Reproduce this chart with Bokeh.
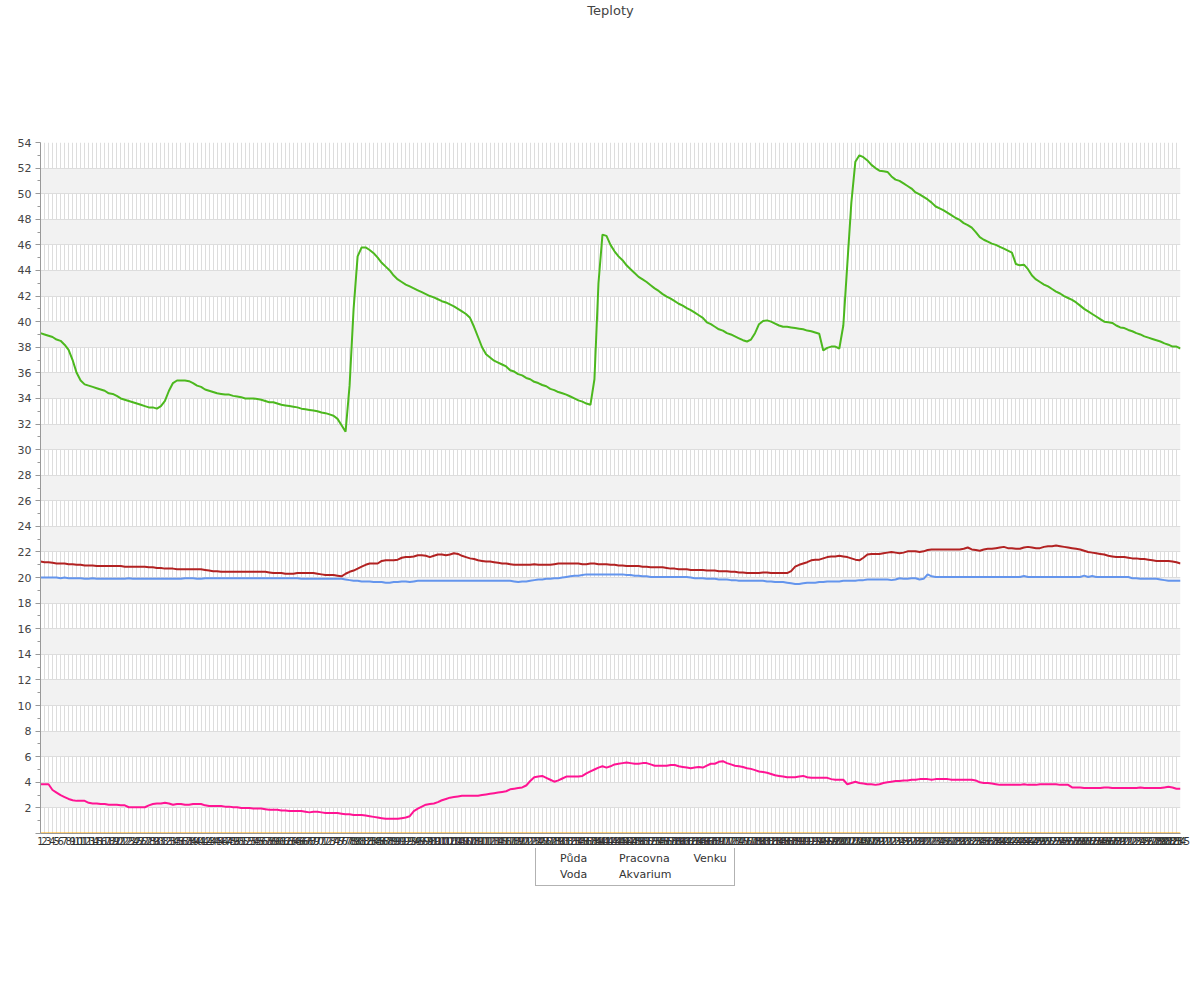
from bokeh.plotting import figure
from bokeh.models import Range1d, FixedTicker, Title
from bokeh.layouts import column
from bokeh.embed import file_html
from bokeh.resources import INLINE

categories = list(range(1, 286))

puda = [
    20.0, 20.0, 20.0, 20.0, 20.0, 19.95, 20.0, 19.95, 19.95, 19.95,
    19.95, 19.9, 19.9, 19.95, 19.9, 19.9, 19.9, 19.9, 19.9, 19.9,
    19.9, 19.9, 19.95, 19.9, 19.9, 19.9, 19.9, 19.9, 19.9, 19.9,
    19.9, 19.9, 19.9, 19.9, 19.9, 19.9, 19.95, 19.95, 19.95, 19.9,
    19.9, 19.95, 19.95, 19.95, 19.95, 19.95, 19.95, 19.95, 19.95, 19.95,
    19.95, 19.95, 19.95, 19.95, 19.95, 19.95, 19.95, 19.95, 19.95, 19.95,
    19.95, 19.95, 19.95, 19.95, 19.95, 19.9, 19.9, 19.9, 19.9, 19.9,
    19.9, 19.9, 19.9, 19.9, 19.9, 19.9, 19.85, 19.8, 19.75, 19.75,
    19.7, 19.7, 19.7, 19.65, 19.65, 19.65, 19.6, 19.6, 19.65, 19.65,
    19.7, 19.7, 19.65, 19.7, 19.75, 19.75, 19.75, 19.75, 19.75, 19.75,
    19.75, 19.75, 19.75, 19.75, 19.75, 19.75, 19.75, 19.75, 19.75, 19.75,
    19.75, 19.75, 19.75, 19.75, 19.75, 19.75, 19.75, 19.75, 19.7, 19.65,
    19.7, 19.7, 19.75, 19.8, 19.85, 19.85, 19.9, 19.9, 19.95, 19.95,
    20.0, 20.05, 20.1, 20.15, 20.15, 20.2, 20.25, 20.25, 20.25, 20.25,
    20.25, 20.25, 20.25, 20.25, 20.25, 20.25, 20.2, 20.2, 20.15, 20.15,
    20.1, 20.1, 20.05, 20.05, 20.05, 20.05, 20.05, 20.05, 20.05, 20.05,
    20.05, 20.05, 20.0, 19.95, 19.95, 19.95, 19.9, 19.9, 19.9, 19.85,
    19.85, 19.85, 19.8, 19.8, 19.75, 19.75, 19.75, 19.75, 19.75, 19.75,
    19.75, 19.7, 19.7, 19.65, 19.65, 19.65, 19.6, 19.55, 19.5, 19.5,
    19.55, 19.6, 19.6, 19.6, 19.65, 19.65, 19.7, 19.7, 19.7, 19.7,
    19.75, 19.75, 19.75, 19.75, 19.8, 19.8, 19.85, 19.85, 19.85, 19.85,
    19.85, 19.85, 19.8, 19.85, 19.95, 19.9, 19.9, 19.95, 19.95, 19.85,
    19.9, 20.25, 20.1, 20.05, 20.05, 20.05, 20.05, 20.05, 20.05, 20.05,
    20.05, 20.05, 20.05, 20.05, 20.05, 20.05, 20.05, 20.05, 20.05, 20.05,
    20.05, 20.05, 20.05, 20.05, 20.05, 20.12, 20.05, 20.05, 20.05, 20.05,
    20.05, 20.05, 20.05, 20.05, 20.05, 20.05, 20.05, 20.05, 20.05, 20.05,
    20.15, 20.05, 20.12, 20.05, 20.05, 20.05, 20.05, 20.05, 20.05, 20.05,
    20.05, 20.05, 19.95, 19.95, 19.9, 19.9, 19.9, 19.9, 19.9, 19.85,
    19.8, 19.75, 19.75, 19.75, 19.75,
]

voda = [
    39.1, 39.0, 38.9, 38.8, 38.6, 38.5, 38.2, 37.8, 37.0, 36.0,
    35.4, 35.1, 35.0, 34.9, 34.8, 34.7, 34.6, 34.4, 34.35, 34.2,
    34.0, 33.9, 33.8, 33.7, 33.6, 33.5, 33.4, 33.3, 33.3, 33.2,
    33.4, 33.8, 34.6, 35.2, 35.4, 35.4, 35.4, 35.35, 35.2, 35.0,
    34.9, 34.7, 34.6, 34.5, 34.4, 34.35, 34.3, 34.3, 34.2, 34.15,
    34.1, 34.0, 34.0, 34.0, 33.95, 33.9, 33.8, 33.7, 33.7, 33.6,
    33.5, 33.45, 33.4, 33.35, 33.3, 33.2, 33.15, 33.1, 33.05, 33.0,
    32.9, 32.85, 32.75, 32.65, 32.4, 31.9, 31.4, 35.0, 41.0, 45.1,
    45.8, 45.8, 45.6, 45.35, 45.0, 44.6, 44.3, 44.0, 43.6, 43.3,
    43.1, 42.9, 42.75, 42.6, 42.45, 42.3, 42.15, 42.0, 41.9, 41.75,
    41.6, 41.5, 41.35, 41.2, 41.0, 40.8, 40.6, 40.3, 39.6, 38.8,
    38.0, 37.45, 37.2, 36.95, 36.8, 36.65, 36.5, 36.2, 36.1, 35.9,
    35.8, 35.6, 35.5, 35.3, 35.2, 35.05, 34.95, 34.75, 34.65, 34.5,
    34.4, 34.3, 34.15, 34.0, 33.85, 33.75, 33.6, 33.5, 35.5, 43.0,
    46.8, 46.7, 46.0, 45.5, 45.1, 44.8, 44.4, 44.1, 43.8, 43.5,
    43.3, 43.1, 42.85, 42.6, 42.4, 42.15, 41.95, 41.8, 41.6, 41.4,
    41.25, 41.05, 40.9, 40.7, 40.5, 40.3, 39.95, 39.8, 39.6, 39.4,
    39.3, 39.1, 39.0, 38.85, 38.7, 38.55, 38.45, 38.6, 39.1, 39.8,
    40.05, 40.1, 40.0, 39.85, 39.7, 39.6, 39.6, 39.55, 39.5, 39.45,
    39.4, 39.3, 39.25, 39.15, 39.05, 37.75, 37.95, 38.05, 38.05, 37.9,
    39.7, 44.5, 49.3, 52.5, 53.0, 52.85, 52.6, 52.25, 52.0, 51.8,
    51.75, 51.7, 51.35, 51.1, 51.0, 50.8, 50.6, 50.4, 50.1, 49.95,
    49.75, 49.55, 49.3, 49.0, 48.85, 48.7, 48.5, 48.3, 48.1, 47.95,
    47.7, 47.55, 47.35, 47.0, 46.6, 46.4, 46.25, 46.1, 46.0, 45.85,
    45.7, 45.55, 45.4, 44.5, 44.4, 44.45, 44.1, 43.6, 43.3, 43.1,
    42.9, 42.75, 42.55, 42.35, 42.2, 42.0, 41.85, 41.7, 41.5, 41.25,
    41.0, 40.8, 40.6, 40.4, 40.2, 40.0, 39.95, 39.9, 39.7, 39.55,
    39.5, 39.35, 39.25, 39.1, 39.0, 38.85, 38.75, 38.65, 38.55, 38.45,
    38.3, 38.2, 38.05, 38.05, 37.9,
]

pracovna = [
    21.25, 21.2, 21.2, 21.15, 21.1, 21.1, 21.1, 21.05, 21.05, 21.0,
    21.0, 20.95, 20.95, 20.95, 20.9, 20.9, 20.9, 20.9, 20.9, 20.9,
    20.9, 20.85, 20.85, 20.85, 20.85, 20.85, 20.85, 20.8, 20.8, 20.75,
    20.75, 20.7, 20.7, 20.7, 20.65, 20.65, 20.65, 20.65, 20.65, 20.65,
    20.65, 20.6, 20.55, 20.5, 20.5, 20.45, 20.45, 20.45, 20.45, 20.45,
    20.45, 20.45, 20.45, 20.45, 20.45, 20.45, 20.45, 20.4, 20.35, 20.35,
    20.35, 20.3, 20.3, 20.3, 20.35, 20.35, 20.35, 20.35, 20.35, 20.3,
    20.25, 20.2, 20.2, 20.2, 20.15, 20.1, 20.3, 20.45, 20.55, 20.7,
    20.85, 21.0, 21.1, 21.1, 21.1, 21.3, 21.35, 21.35, 21.35, 21.4,
    21.55, 21.6, 21.6, 21.65, 21.75, 21.75, 21.7, 21.6, 21.7, 21.8,
    21.8, 21.75, 21.8, 21.9, 21.85, 21.7, 21.6, 21.5, 21.45, 21.35,
    21.3, 21.25, 21.25, 21.2, 21.15, 21.1, 21.1, 21.05, 21.0, 21.0,
    21.0, 21.0, 21.0, 21.05, 21.0, 21.0, 21.0, 21.0, 21.05, 21.1,
    21.1, 21.1, 21.1, 21.1, 21.1, 21.05, 21.05, 21.1, 21.1, 21.05,
    21.05, 21.05, 21.0, 21.0, 20.95, 20.95, 20.9, 20.9, 20.9, 20.9,
    20.85, 20.85, 20.8, 20.8, 20.8, 20.8, 20.75, 20.7, 20.7, 20.65,
    20.65, 20.65, 20.6, 20.6, 20.6, 20.6, 20.55, 20.55, 20.55, 20.5,
    20.5, 20.5, 20.45, 20.45, 20.4, 20.4, 20.35, 20.35, 20.35, 20.35,
    20.4, 20.4, 20.35, 20.35, 20.35, 20.35, 20.35, 20.5, 20.85, 21.0,
    21.1, 21.2, 21.35, 21.4, 21.4, 21.5, 21.6, 21.65, 21.65, 21.7,
    21.65, 21.6, 21.5, 21.4, 21.35, 21.55, 21.8, 21.85, 21.85, 21.85,
    21.9, 21.95, 22.0, 21.95, 21.9, 21.95, 22.05, 22.05, 22.05, 22.0,
    22.05, 22.15, 22.2, 22.2, 22.2, 22.2, 22.2, 22.2, 22.2, 22.2,
    22.25, 22.35, 22.2, 22.15, 22.1, 22.2, 22.25, 22.25, 22.3, 22.35,
    22.4, 22.3, 22.3, 22.25, 22.25, 22.35, 22.4, 22.35, 22.3, 22.3,
    22.4, 22.45, 22.45, 22.5, 22.45, 22.4, 22.35, 22.3, 22.25, 22.2,
    22.1, 22.0, 21.95, 21.9, 21.85, 21.8, 21.7, 21.65, 21.6, 21.6,
    21.6, 21.55, 21.5, 21.5, 21.45, 21.45, 21.4, 21.35, 21.3, 21.3,
    21.3, 21.3, 21.25, 21.2, 21.1,
]

akvarium = [
    0, 0, 0, 0, 0, 0, 0, 0, 0, 0, 0, 0, 0, 0, 0, 0, 0, 0, 0, 0,
    0, 0, 0, 0, 0, 0, 0, 0, 0, 0, 0, 0, 0, 0, 0, 0, 0, 0, 0, 0,
    0, 0, 0, 0, 0, 0, 0, 0, 0, 0, 0, 0, 0, 0, 0, 0, 0, 0, 0, 0,
    0, 0, 0, 0, 0, 0, 0, 0, 0, 0, 0, 0, 0, 0, 0, 0, 0, 0, 0, 0,
    0, 0, 0, 0, 0, 0, 0, 0, 0, 0, 0, 0, 0, 0, 0, 0, 0, 0, 0, 0,
    0, 0, 0, 0, 0, 0, 0, 0, 0, 0, 0, 0, 0, 0, 0, 0, 0, 0, 0, 0,
    0, 0, 0, 0, 0, 0, 0, 0, 0, 0, 0, 0, 0, 0, 0, 0, 0, 0, 0, 0,
    0, 0, 0, 0, 0, 0, 0, 0, 0, 0, 0, 0, 0, 0, 0, 0, 0, 0, 0, 0,
    0, 0, 0, 0, 0, 0, 0, 0, 0, 0, 0, 0, 0, 0, 0, 0, 0, 0, 0, 0,
    0, 0, 0, 0, 0, 0, 0, 0, 0, 0, 0, 0, 0, 0, 0, 0, 0, 0, 0, 0,
    0, 0, 0, 0, 0, 0, 0, 0, 0, 0, 0, 0, 0, 0, 0, 0, 0, 0, 0, 0,
    0, 0, 0, 0, 0, 0, 0, 0, 0, 0, 0, 0, 0, 0, 0, 0, 0, 0, 0, 0,
    0, 0, 0, 0, 0, 0, 0, 0, 0, 0, 0, 0, 0, 0, 0, 0, 0, 0, 0, 0,
    0, 0, 0, 0, 0, 0, 0, 0, 0, 0, 0, 0, 0, 0, 0, 0, 0, 0, 0, 0,
    0, 0, 0, 0, 0,
]

venku = [
    3.85, 3.85, 3.85, 3.4, 3.2, 3.0, 2.85, 2.7, 2.6, 2.55,
    2.55, 2.55, 2.4, 2.35, 2.35, 2.3, 2.3, 2.25, 2.25, 2.25,
    2.2, 2.2, 2.05, 2.05, 2.05, 2.05, 2.05, 2.2, 2.3, 2.35,
    2.35, 2.4, 2.35, 2.25, 2.3, 2.3, 2.25, 2.25, 2.3, 2.3,
    2.3, 2.2, 2.15, 2.15, 2.15, 2.15, 2.1, 2.1, 2.05, 2.05,
    2.0, 2.0, 2.0, 1.95, 1.95, 1.95, 1.9, 1.85, 1.85, 1.85,
    1.8, 1.8, 1.75, 1.75, 1.75, 1.75, 1.7, 1.65, 1.7, 1.7,
    1.65, 1.6, 1.6, 1.6, 1.6, 1.55, 1.5, 1.5, 1.45, 1.45,
    1.45, 1.4, 1.35, 1.3, 1.25, 1.2, 1.15, 1.15, 1.15, 1.15,
    1.2, 1.25, 1.35, 1.75, 1.95, 2.1, 2.25, 2.3, 2.35, 2.45,
    2.6, 2.7, 2.8, 2.85, 2.9, 2.95, 2.95, 2.95, 2.95, 2.95,
    3.0, 3.05, 3.1, 3.15, 3.2, 3.25, 3.3, 3.45, 3.5, 3.55,
    3.6, 3.75, 4.1, 4.4, 4.45, 4.5, 4.35, 4.2, 4.05, 4.15,
    4.3, 4.45, 4.45, 4.45, 4.45, 4.5, 4.7, 4.85, 5.0, 5.15,
    5.25, 5.15, 5.25, 5.4, 5.45, 5.5, 5.55, 5.5, 5.45, 5.45,
    5.5, 5.5, 5.4, 5.3, 5.3, 5.3, 5.3, 5.35, 5.35, 5.25,
    5.2, 5.15, 5.1, 5.15, 5.2, 5.15, 5.3, 5.45, 5.45, 5.6,
    5.65, 5.5, 5.4, 5.3, 5.25, 5.2, 5.1, 5.05, 4.95, 4.85,
    4.8, 4.75, 4.65, 4.55, 4.5, 4.45, 4.4, 4.4, 4.4, 4.45,
    4.5, 4.4, 4.35, 4.35, 4.35, 4.35, 4.35, 4.25, 4.2, 4.2,
    4.2, 3.85, 3.95, 4.05, 3.95, 3.9, 3.85, 3.85, 3.8, 3.85,
    3.95, 4.0, 4.05, 4.1, 4.1, 4.15, 4.15, 4.2, 4.2, 4.25,
    4.25, 4.25, 4.2, 4.25, 4.25, 4.25, 4.25, 4.2, 4.2, 4.2,
    4.2, 4.2, 4.2, 4.15, 4.0, 3.95, 3.95, 3.9, 3.85, 3.8,
    3.8, 3.8, 3.8, 3.8, 3.8, 3.85, 3.8, 3.8, 3.8, 3.85,
    3.85, 3.85, 3.85, 3.85, 3.8, 3.8, 3.8, 3.6, 3.6, 3.6,
    3.55, 3.55, 3.55, 3.55, 3.55, 3.6, 3.6, 3.55, 3.55, 3.55,
    3.55, 3.55, 3.55, 3.55, 3.6, 3.55, 3.55, 3.55, 3.55, 3.55,
    3.6, 3.65, 3.6, 3.5, 3.5,
]

series_names = ["Půda", "Voda", "Pracovna", "Akvarium", "Venku"]
series_colors = ["#6495ED", "#4CB81E", "#B22222", "#FFA500", "#FF1493"]
y_ticks = list(range(0, 56, 2))
y_minor = list(range(1, 55, 2))

FONT = "DejaVu Sans"

p = figure(
    frame_width=1140, frame_height=691,
    x_range=Range1d(1, 285), y_range=Range1d(0, 54),
    output_backend="svg", toolbar_location=None,
    min_border_left=40, min_border_right=12,
    min_border_top=142, min_border_bottom=15,
    background_fill_color="white", border_fill_color="white",
)
p.outline_line_color = None

# spacer between frame and title (pushes the title to the top of the canvas)
p.add_layout(Title(text=" ", text_font_size="1px", standoff=122), "above")

p.title.text = "Teploty"
p.title.align = "center"
p.title.offset = -12
p.title.standoff = 0
p.title.text_font = FONT
p.title.text_font_size = "13px"
p.title.text_font_style = "normal"
p.title.text_color = "#444444"

# axes
p.yaxis.ticker = FixedTicker(ticks=y_ticks, minor_ticks=y_minor)
p.yaxis.major_label_overrides = {0: ""}
p.yaxis.axis_line_color = "#999999"
p.yaxis.major_tick_line_color = "#999999"
p.yaxis.minor_tick_line_color = "#999999"
p.yaxis.major_tick_out = 5
p.yaxis.major_tick_in = 0
p.yaxis.minor_tick_out = 3
p.yaxis.minor_tick_in = 0
p.yaxis.major_label_text_font = FONT
p.yaxis.major_label_text_font_size = "11px"
p.yaxis.major_label_text_color = "#444444"
p.yaxis.major_label_standoff = 4

p.xaxis.ticker = FixedTicker(ticks=categories)
p.xaxis.axis_line_color = "#999999"
p.xaxis.major_tick_line_color = None
p.xaxis.minor_tick_line_color = None
p.xaxis.major_tick_out = 0
p.xaxis.major_tick_in = 0
p.xaxis.major_label_text_font = FONT
p.xaxis.major_label_text_font_size = "10px"
p.xaxis.major_label_text_color = "#333333"
p.xaxis.major_label_standoff = 3

p.xgrid.grid_line_color = "#dddddd"
p.ygrid.grid_line_color = "#dddddd"
p.ygrid.band_fill_color = "#f2f2f2"
p.ygrid.band_fill_alpha = 1.0

data = [puda, voda, pracovna, akvarium, venku]
for name, color, ys in zip(series_names, series_colors, data):
    p.line(categories, ys, line_color=color, line_width=2)

# legend strip under the chart: a bare figure whose frame holds only the legend
lg = figure(
    width=1192, height=60,
    x_range=Range1d(0, 1), y_range=Range1d(0, 1),
    output_backend="svg", toolbar_location=None,
    x_axis_location=None, y_axis_location=None,
    min_border_left=0, min_border_right=0, min_border_top=0, min_border_bottom=0,
    background_fill_color="white", border_fill_color="white",
)
lg.outline_line_color = None
lg.xgrid.visible = False
lg.ygrid.visible = False
for name, color in zip(series_names, series_colors):
    lg.line([], [], line_color=color, line_width=2, legend_label=name)

leg = lg.legend[0]
leg.location = (495, 22)
leg.orientation = "vertical"
leg.nrows = 2
leg.border_line_color = "#666666"
leg.label_text_font = FONT
leg.label_text_font_size = "11px"
leg.label_text_color = "#333333"
leg.glyph_width = 14
leg.glyph_height = 14
leg.label_standoff = 6
leg.label_width = 37
leg.spacing = 2
leg.padding = 4

layout = column(p, lg)
open("out.html", "w").write(file_html(layout, INLINE))
